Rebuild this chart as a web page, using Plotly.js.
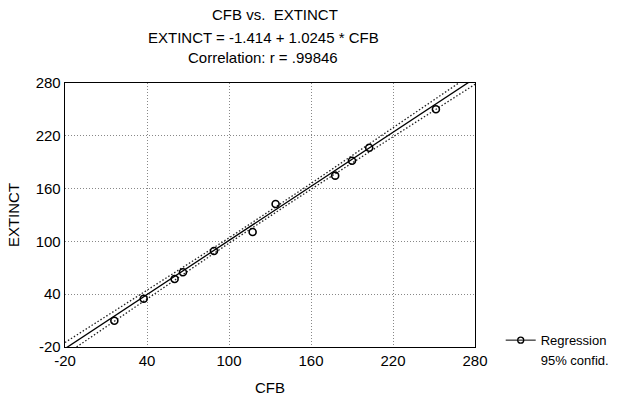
<!DOCTYPE html>
<html>
<head>
<meta charset="utf-8">
<script src="https://cdn.plot.ly/plotly-3.0.1.min.js"></script>
<style>html,body{margin:0;padding:0;background:#fff;}#chart{width:622px;height:399px;}</style>
</head>
<body>
<div id="chart"></div>
<script>
const cfb = [16.1, 37.6, 60.2, 66.3, 89.0, 117.3, 134.1, 177.7, 190.0, 202.6, 251.4];
const extinct = [9.9, 34.9, 57.3, 64.9, 89.1, 110.7, 142.5, 174.7, 191.7, 206.5, 250.1];

// Regression line end points (EXTINCT = -1.414 + 1.0245 * CFB)
const regX = [-20, 280];
const regY = [-21.9, 285.5];

// 95% confidence band
const bandX = [-20, 40, 100, 160, 220, 280];
const bandUpper = [-14.9, 44.6, 104.0, 165.8, 228.8, 292.5];
const bandLower = [-28.9, 34.6, 98.0, 159.2, 219.2, 278.5];

const xTicks = [-20, 40, 100, 160, 220, 280];
const yTicks = [-20, 40, 100, 160, 220, 280];

const titleLines = ['CFB vs.  EXTINCT', 'EXTINCT = -1.414 + 1.0245 * CFB', 'Correlation: r = .99846'];

const fam = 'Liberation Sans, Arial, sans-serif';
const font = {family: fam, size: 15, color: '#000'};

const traces = [
  {x: bandX, y: bandUpper, mode: 'lines', line: {color: '#222', width: 1.3, dash: '1.5px,2px'}, showlegend: false, hoverinfo: 'skip'},
  {x: bandX, y: bandLower, mode: 'lines', line: {color: '#222', width: 1.3, dash: '1.5px,2px'}, showlegend: false, hoverinfo: 'skip'},
  {x: regX, y: regY, mode: 'lines', line: {color: '#000', width: 1.3}, showlegend: false},
  {x: cfb, y: extinct, mode: 'markers', marker: {symbol: 'circle-open', size: 7, color: '#000', line: {width: 1.6}}, showlegend: false},
  {x: [null], y: [null], mode: 'lines+markers', name: 'Regression', line: {color: '#000', width: 1}, marker: {symbol: 'circle-open', size: 6, color: '#000', line: {width: 1.3}}},
  {x: [null], y: [null], mode: 'lines', name: '95% confid.', line: {color: 'rgba(0,0,0,0)', width: 1}}
];

// title lines placed as annotations (paper coords: plot spans px 65..475 x, 347..83 y)
const titleX = [0.511, 0.484, 0.484];
const titleY = [1.2576, 1.174, 1.0947];
const annotations = titleLines.map((t, i) => ({
  text: t, xref: 'paper', yref: 'paper', x: titleX[i], y: titleY[i],
  xanchor: 'center', yanchor: 'middle', showarrow: false, font: font
}));

const gridStyle = {showgrid: true, gridcolor: '#888', griddash: '1px,2px', gridwidth: 1};

const layout = {
  width: 622, height: 399,
  margin: {l: 65, r: 147, t: 83, b: 52},
  paper_bgcolor: '#fff', plot_bgcolor: '#fff',
  font: font,
  annotations: annotations,
  xaxis: Object.assign({
    range: [-20, 280], tickvals: xTicks, ticktext: xTicks.map(String),
    showline: true, linecolor: '#000', linewidth: 1.3, mirror: true,
    zeroline: false, ticks: '', ticklen: 0,
    title: {text: 'CFB', font: font, standoff: 14},
    tickfont: font
  }, gridStyle),
  yaxis: Object.assign({
    range: [-20, 280], tickvals: yTicks, ticktext: yTicks.map(String),
    showline: true, linecolor: '#000', linewidth: 1.3, mirror: true,
    zeroline: false, ticks: '', ticklen: 0,
    title: {text: 'EXTINCT', font: font, standoff: 12},
    tickfont: font
  }, gridStyle),
  legend: {xref: 'container', yref: 'container', x: 0.805, xanchor: 'left', y: 0.185, yanchor: 'top',
           font: {family: fam, size: 13, color: '#000'}, tracegroupgap: 0, itemwidth: 30, bgcolor: 'rgba(0,0,0,0)'}
};

Plotly.newPlot('chart', traces, layout, {displayModeBar: false, staticPlot: true});
</script>
</body>
</html>
